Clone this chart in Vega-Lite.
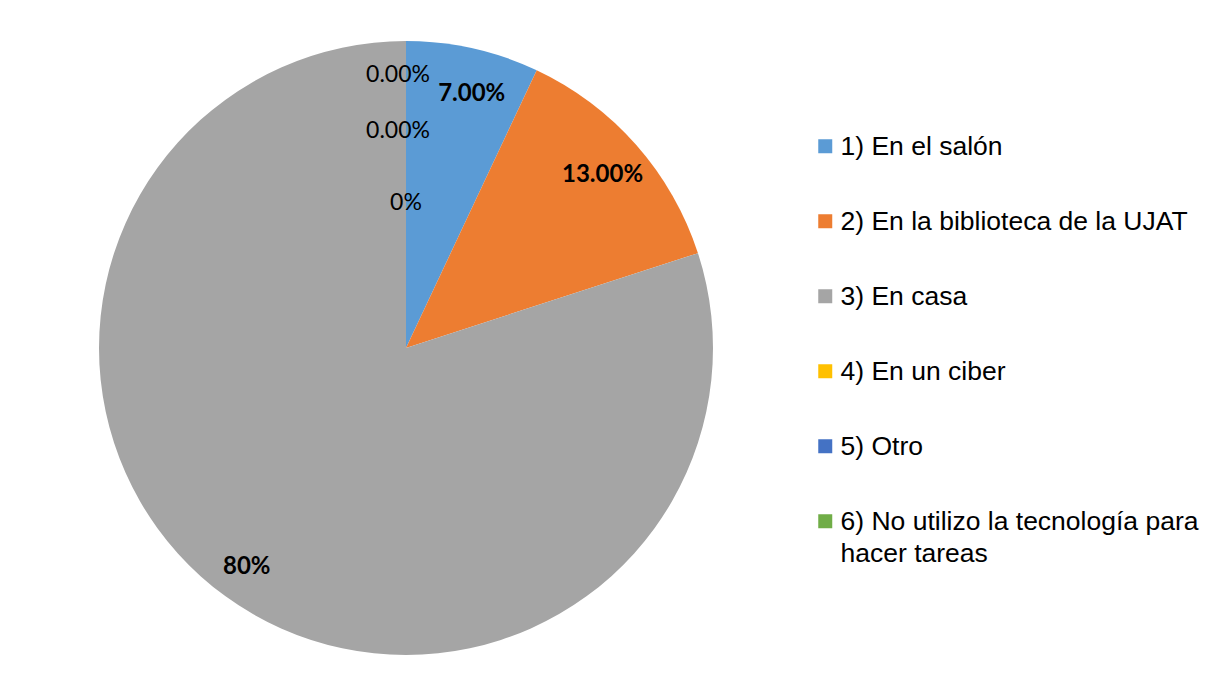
{
  "$schema": "https://vega.github.io/schema/vega-lite/v6.json",
  "width": 812,
  "height": 658,
  "autosize": {"type": "none"},
  "padding": {"left": 0, "top": 19, "right": 419, "bottom": 0},
  "background": "white",
  "config": {"view": {"stroke": null}},
  "data": {
    "values": [
      {"cat": "1) En el salón", "value": 7, "label": "7.00%"},
      {"cat": "2) En la biblioteca de la UJAT", "value": 13, "label": "13.00%"},
      {"cat": "3) En casa", "value": 80, "label": "80%"},
      {"cat": "4) En un ciber", "value": 0, "label": "0.00%"},
      {"cat": "5) Otro", "value": 0, "label": "0.00%"},
      {"cat": "6) No utilizo la tecnología para hacer tareas", "value": 0, "label": "0%"}
    ]
  },
  "encoding": {
    "theta": {"field": "value", "type": "quantitative", "stack": true},
    "order": {"field": "cat", "type": "ordinal", "sort": "ascending"}
  },
  "layer": [
    {
      "mark": {"type": "arc", "outerRadius": 307},
      "encoding": {
        "color": {
          "field": "cat",
          "type": "nominal",
          "scale": {
            "domain": ["1) En el salón", "2) En la biblioteca de la UJAT", "3) En casa", "4) En un ciber", "5) Otro", "6) No utilizo la tecnología para hacer tareas"],
            "range": ["#5B9BD5", "#ED7D31", "#A5A5A5", "#FFC000", "#4472C4", "#70AD47"]
          },
          "legend": {
            "orient": "none",
            "legendX": 812,
            "legendY": 114,
            "direction": "vertical",
            "title": null,
            "padding": 0,
            "symbolType": "square",
            "symbolSize": 196,
            "symbolStrokeWidth": 0,
            "labelFont": "Liberation Sans",
            "labelFontSize": 26.5,
            "labelColor": "#000000",
            "labelLimit": 500,
            "labelOffset": 2,
            "rowPadding": 47,
            "labelBaseline": "alphabetic",
            "labelExpr": "indexof(datum.label, '6)') == 0 ? ['6) No utilizo la tecnología para', 'hacer tareas'] : datum.label",
            "encode": {"labels": {"update": {"dy": {"value": 9}, "lineHeight": {"value": 32}}}}
          }
        }
      }
    },
    {
      "mark": {"type": "text", "radius": 260, "dx": 9, "font": "Lato", "fontWeight": "bold", "fontSize": 24, "color": "#000000"},
      "encoding": {"text": {"condition": {"test": "datum.label == '7.00%'", "field": "label"}, "value": ""}}
    },
    {
      "mark": {"type": "text", "radius": 262, "font": "Lato", "fontWeight": "bold", "fontSize": 24, "color": "#000000"},
      "encoding": {"text": {"condition": {"test": "datum.label == '13.00%'", "field": "label"}, "value": ""}}
    },
    {
      "mark": {"type": "text", "radius": 271, "font": "Lato", "fontWeight": "bold", "fontSize": 24, "color": "#000000"},
      "encoding": {"text": {"condition": {"test": "datum.label == '80%'", "field": "label"}, "value": ""}}
    },
    {
      "mark": {"type": "text", "radius": 273, "dx": -8, "font": "Lato", "fontSize": 23, "color": "#000000"},
      "encoding": {"text": {"condition": {"test": "datum.cat == '4) En un ciber'", "field": "label"}, "value": ""}}
    },
    {
      "mark": {"type": "text", "radius": 217, "dx": -8, "font": "Lato", "fontSize": 23, "color": "#000000"},
      "encoding": {"text": {"condition": {"test": "datum.cat == '5) Otro'", "field": "label"}, "value": ""}}
    },
    {
      "mark": {"type": "text", "radius": 145, "font": "Lato", "fontSize": 23, "color": "#000000"},
      "encoding": {"text": {"condition": {"test": "indexof(datum.cat, '6)') == 0", "field": "label"}, "value": ""}}
    }
  ]
}
